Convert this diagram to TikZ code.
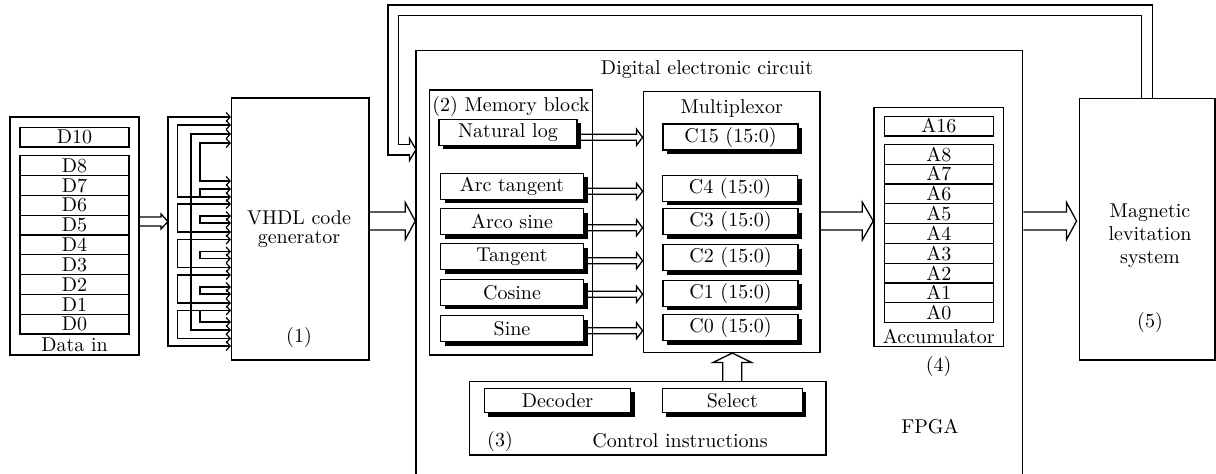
\documentclass[tikz,border=0pt]{standalone}
\usepackage{tikz}
\usetikzlibrary{positioning,fit,calc,shadows,arrows.meta}

\tikzset{
  box/.style={draw, line width=0.75pt, inner sep=0pt},
  reg/.style={draw, line width=0.6pt, outer sep=0pt, inner sep=0pt,
    minimum width=54.5pt, minimum height=9.9pt},
  fn/.style={draw, line width=0.6pt, fill=white, inner sep=0pt, minimum height=13pt,
    drop shadow={shadow xshift=2pt, shadow yshift=-2pt, fill=black, opacity=1}},
  wire/.style={line width=0.6pt},
  bus/.style n args={3}{line width=0.65pt, to path={
    let \p1=(\tikztostart), \p2=(\tikztotarget) in
    (\x1,\y2+#1) -- (\x2-#3,\y2+#1) -- (\x2-#3,\y2+#2) -- (\x2,\y2)
    -- (\x2-#3,\y2-#2) -- (\x2-#3,\y2-#1) -- (\x1,\y2-#1)}},
  busup/.style n args={3}{line width=0.65pt, to path={
    let \p1=(\tikztostart), \p2=(\tikztotarget) in
    (\x2-#1,\y1) -- (\x2-#1,\y2-#3) -- (\x2-#2,\y2-#3) -- (\x2,\y2)
    -- (\x2+#2,\y2-#3) -- (\x2+#1,\y2-#3) -- (\x2+#1,\y1)}},
  >={Straight Barb[length=2pt,width=4.5pt]}
}

\begin{document}
\begin{tikzpicture}[x=0.5pt, y=-0.5pt]

\tikzstyle{every node}=[font=\fontsize{10}{11.5}\selectfont]

\path[use as bounding box, clip] (0,0) rectangle (1216,473);

% data in %
\node[box, fit={(10,117) (139,355)}] (data) {};
\node[reg] (d10) at (74.5,137) {D10};
\node[reg] (d8) at (74.5,165.6) {D8};
\foreach \i [remember=\i as \prev (initially 8)] in {7,6,...,0}
  \node[reg, below=0pt of d\prev] (d\i) {D\i};
\node at (74.5,345) {Data in};

% vhdl %
\node[box, fit={(231.7,98) (369,360)}] (vhdl) {};
\node[align=center, font=\fontsize{10}{9.4}\selectfont] at (299,229) {VHDL code\\generator};
\node at (299,337) {(1)};

% fan out %
\coordinate (hub) at (168,221.5);
\draw[bus={2.25pt}{3.75pt}{3.5pt}] (data.east |- hub) to (hub);
\foreach \xx/\ya/\yb in {168/117/346, 177.5/125/197, 191/134/330, 200/143/181}
  \draw[wire,<->] (vhdl.west |- 0,\ya) -| (\xx,\yb) -- (vhdl.west |- 0,\yb);
\draw[wire,->] (200,197) |- (vhdl.west |- 0,189);
\foreach \yt in {204,239.5,275,310.5}
  \draw[wire,<->] (vhdl.west |- 0,\yt) -| (177.5,\yt+28) -- (vhdl.west |- 0,\yt+28);
\foreach \yt in {204,239.5,275}
  \draw[wire,<->] (vhdl.west |- 0,\yt+12) -| (200,\yt+19) -- (vhdl.west |- 0,\yt+19);
\draw[wire,->] (200,310.5) |- (vhdl.west |- 0,322);

% fpga %
\node[box, fit={(416,50.7) (1022.7,490)}] (fpga) {};
\node at (707,70) {Digital electronic circuit};
\node at (930,427) {FPGA};

% memory block %
\node[box, fit={(429.3,90) (592.3,355)}] (mem) {};
\node at (511,106) {(2) Memory block};
\node[fn, minimum width=69pt] (nlog) at (508,132.3) {Natural log};
\node[fn, minimum width=71.5pt] (atan) at (512,186.3) {Arc tangent};
\node[fn, minimum width=71.5pt] (asin) at (512,221.7) {Arco sine};
\node[fn, minimum width=71.5pt] (tan) at (512,256.7) {Tangent};
\node[fn, minimum width=71.5pt] (cos) at (512,292.2) {Cosine};
\node[fn, minimum width=71.5pt] (sin) at (512,328.7) {Sine};

% multiplexor %
\node[box, fit={(643.3,91.7) (820,352.3)}] (mux) {};
\node at (731.7,108.3) {Multiplexor};
\node[fn, minimum width=67.5pt] (c15) at (730.5,137) {C15 (15:0)};
\node[fn, minimum width=67.5pt] (c4) at (730,188.3) {C4 (15:0)};
\node[fn, minimum width=67.5pt] (c3) at (730.5,221.7) {C3 (15:0)};
\node[fn, minimum width=67.5pt] (c2) at (730.5,257.8) {C2 (15:0)};
\node[fn, minimum width=67.5pt] (c1) at (730.5,293.3) {C1 (15:0)};
\node[fn, minimum width=67.5pt] (c0) at (730.5,327.8) {C0 (15:0)};

\foreach \f/\dy in {nlog/5, atan/5, asin/6, tan/4, cos/2, sin/2}
  \draw[bus={1.5pt}{4pt}{3pt}] (\f.east) to ($(mux.west |- \f.east)+(0,\dy)$);

% control instructions %
\node[box, fit={(469.3,381.7) (826,455)}] (ctrl) {};
\node[fn, minimum width=73.2pt, minimum height=12.2pt] (dec) at (557.5,400.5) {Decoder};
\node[fn, minimum width=70pt, minimum height=12.2pt] (sel) at (732.3,400.5) {Select};
\node at (500,441) {(3)};
\node at (680,441) {Control instructions};
\draw[busup={4.75pt}{9.75pt}{4.75pt}] (sel.north |- ctrl.north) to (mux.south -| sel.north);

% accumulator %
\node[box, fit={(874,107.3) (1003.3,346.7)}] (acc) {};
\node[reg] (a16) at (938.8,126) {A16};
\node[reg] (a8) at (938.8,154.2) {A8};
\foreach \i [remember=\i as \prev (initially 8)] in {7,6,...,0}
  \node[reg, below=0pt of a\prev] (a\i) {A\i};
\node at (938.8,336) {Accumulator};
\node[below=1pt of acc] {(4)};

% magnetic levitation %
\node[box, fit={(1079.3,98.3) (1215,360)}] (mag) {};
\node[align=center] at (1150,236) {Magnetic\\levitation\\system};
\node at (1150,322) {(5)};

% main flow %
\coordinate (flow) at (0,221);
\draw[bus={4.5pt}{9.25pt}{5pt}] (vhdl.east |- flow) to (fpga.west |- flow);
\draw[bus={4.5pt}{9.5pt}{5.5pt}] (mux.east |- flow) to (acc.west |- flow);
\draw[bus={4.5pt}{9.25pt}{5pt}] (fpga.east |- flow) to ([xshift=-1pt]mag.west |- flow);

% feedback %
\coordinate (fbtop) at (393.3,10.35);
\coordinate (fbin) at (416,149.5);
\draw[line width=0.65pt, double, double distance=4.7pt, shorten >=3.25pt]
  (mag.north) |- (fbtop) |- (fbin);
\draw[bus={2.675pt}{5.5pt}{3.25pt}] ($(fbin)+(-6.5,0)$) to (fbin);

\end{tikzpicture}
\end{document}
